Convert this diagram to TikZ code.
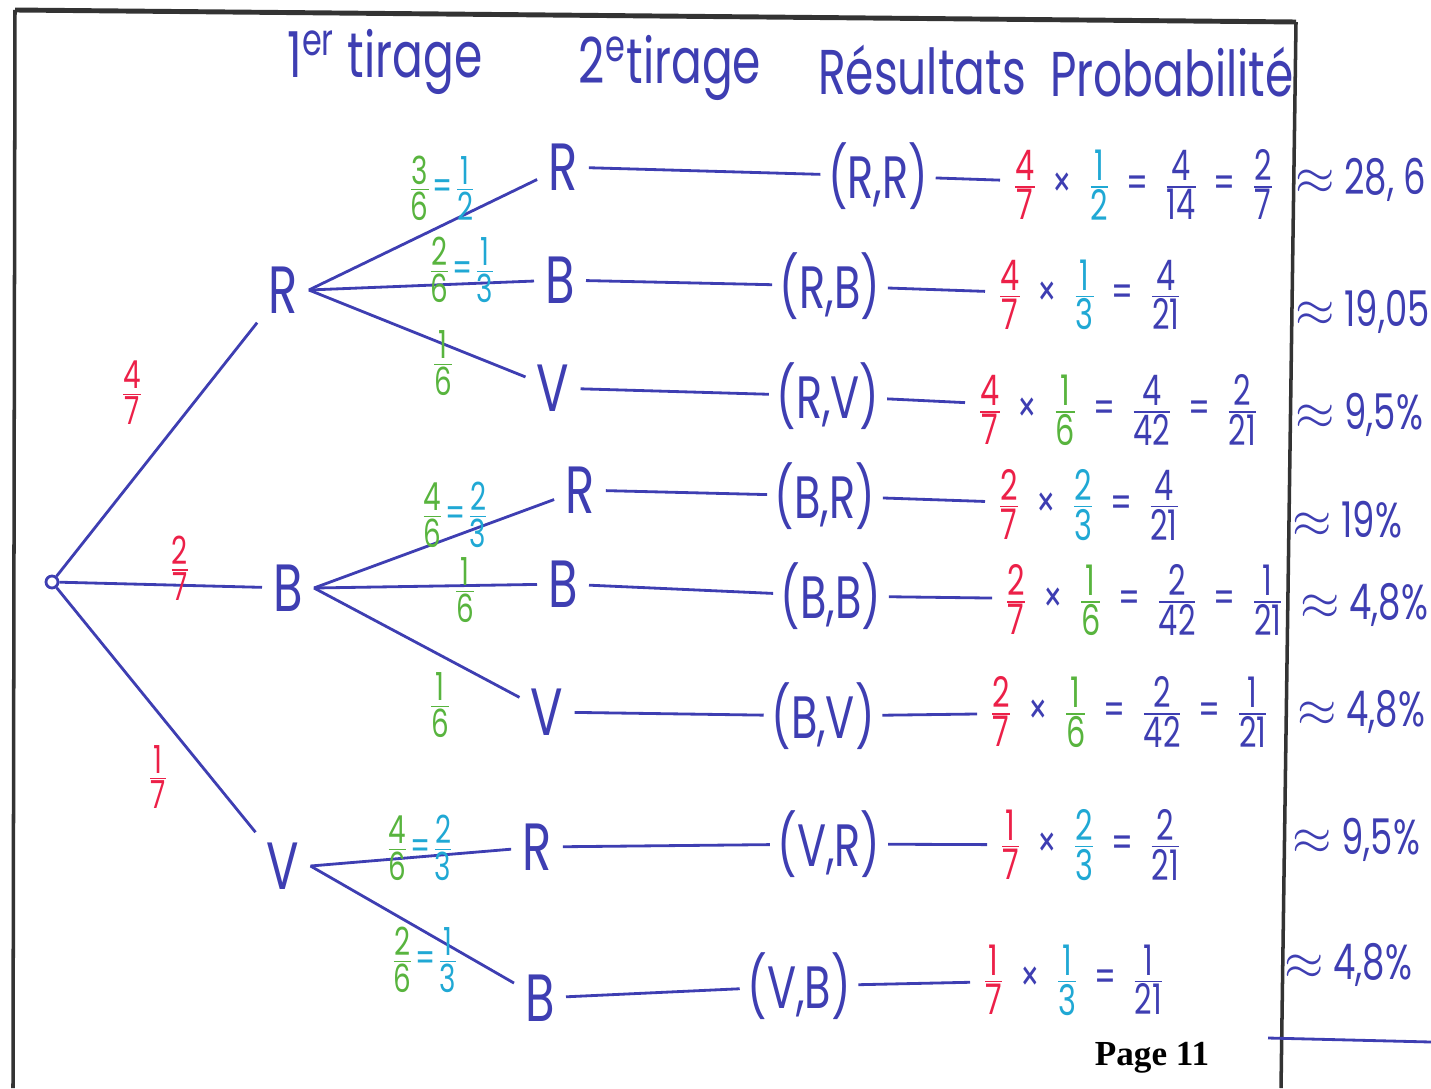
\documentclass[tikz,border=0pt]{standalone}
\usepackage{amsmath}
\usepackage{fontspec}
\setmainfont{Poppins}[FakeStretch=0.72]
\newfontfamily\imprime{Liberation Serif}

\definecolor{encre}{RGB}{62,62,178}
\definecolor{rouge}{RGB}{236,32,72}
\definecolor{vert}{RGB}{88,180,62}
\definecolor{turquoise}{RGB}{32,168,212}

\newcommand{\fr}[2]{\frac{\mbox{#1}}{\mbox{#2}}}
\newcommand{\rfr}[2]{\textcolor{rouge}{\fr{#1}{#2}}}
\newcommand{\vfr}[2]{\textcolor{vert}{\fr{#1}{#2}}}
\newcommand{\tfr}[2]{\textcolor{turquoise}{\fr{#1}{#2}}}
\newcommand{\efr}[2]{\fr{#1}{#2}}
\newcommand{\fois}{\mkern6mu\mbox{×}\mkern6mu}
\newcommand{\eg}{\mkern6mu\mbox{=}\mkern6mu}
\newcommand{\teg}{\textcolor{turquoise}{\mbox{=}}}

\begin{document}
\begin{tikzpicture}[x=0.01cm, y=-0.01cm]
  \tikzset{
    lettre_node/.style={text=encre, font=\fontsize{19}{21}\selectfont, inner sep=3pt},
    resultat_node/.style={text=encre, font=\fontsize{17}{19}\selectfont, inner sep=2pt},
    calc_node/.style={anchor=west, text=encre, font=\fontsize{12}{14}\selectfont, inner sep=3pt},
    proba_node/.style={anchor=west, text=encre, font=\fontsize{14}{16}\selectfont, inner sep=0pt},
    titre_node/.style={text=encre, font=\fontsize{18}{20}\selectfont},
    poids_node/.style={font=\fontsize{11}{13}\selectfont, inner sep=0pt},
    branche/.style={draw=encre, line width=0.8pt},
    cadre/.style={draw=black!80, line width=1pt}
  }

  \useasboundingbox (0,0) rectangle (1431,1088);

  % Cadre de la page
  \draw[cadre, line width=1.4pt] (15,10) -- (1296,22);
  \draw[cadre] (15,10) -- (13,1088);
  \draw[cadre] (1296,22) -- (1281,1088);

  % En-tetes des colonnes
  \node[titre_node] (t1) at (385,62) {1\textsuperscript{er} tirage};
  \node[titre_node] (t2) at (670,68) {2\textsuperscript{e}tirage};
  \node[titre_node] (t3) at (922,70) {Résultats};
  \node[titre_node] (t4) at (1172,72) {Probabilité};

  % Racine et 1er tirage
  \node[circle, draw=encre, line width=0.8pt, minimum size=0.12cm, inner sep=0pt] (racine) at (52,582) {};
  \node[lettre_node] (R) at (283,290) {R};
  \node[lettre_node] (B) at (288,588) {B};
  \node[lettre_node] (V) at (283,866) {V};

  % 2e tirage
  \node[lettre_node] (RR) at (563,167) {R};
  \node[lettre_node] (RB) at (560,280) {B};
  \node[lettre_node] (RV) at (553,388) {V};
  \node[lettre_node] (BR) at (580,490) {R};
  \node[lettre_node] (BB) at (563,584) {B};
  \node[lettre_node] (BV) at (547,712) {V};
  \node[lettre_node] (VR) at (537,847) {R};
  \node[lettre_node] (VB) at (540,998) {B};

  % Resultats
  \node[resultat_node] (rRR) at (878,176) {(R,R)};
  \node[resultat_node] (rRB) at (830,286) {(R,B)};
  \node[resultat_node] (rRV) at (828,396) {(R,V)};
  \node[resultat_node] (rBR) at (825,496) {(B,R)};
  \node[resultat_node] (rBB) at (831,596) {(B,B)};
  \node[resultat_node] (rBV) at (823,716) {(B,V)};
  \node[resultat_node] (rVR) at (829,844) {(V,R)};
  \node[resultat_node] (rVB) at (799,986) {(V,B)};

  % Calculs des probabilites
  \node[calc_node] (cRR) at (1000,185) {$\rfr{4}{7}\fois\tfr{1}{2}\eg\efr{4}{14}\eg\efr{2}{7}$};
  \node[calc_node] (cRB) at (985,295) {$\rfr{4}{7}\fois\tfr{1}{3}\eg\efr{4}{21}$};
  \node[calc_node] (cRV) at (965,410) {$\rfr{4}{7}\fois\vfr{1}{6}\eg\efr{4}{42}\eg\efr{2}{21}$};
  \node[calc_node] (cBR) at (985,505) {$\rfr{2}{7}\fois\tfr{2}{3}\eg\efr{4}{21}$};
  \node[calc_node] (cBB) at (992,600) {$\rfr{2}{7}\fois\vfr{1}{6}\eg\efr{2}{42}\eg\efr{1}{21}$};
  \node[calc_node] (cBV) at (977,712) {$\rfr{2}{7}\fois\vfr{1}{6}\eg\efr{2}{42}\eg\efr{1}{21}$};
  \node[calc_node] (cVR) at (987,845) {$\rfr{1}{7}\fois\tfr{2}{3}\eg\efr{2}{21}$};
  \node[calc_node] (cVB) at (970,980) {$\rfr{1}{7}\fois\tfr{1}{3}\eg\efr{1}{21}$};

  % Pourcentages
  \node[proba_node] (pRR) at (1295,180) {$\approx$ 28, 6};
  \node[proba_node] (pRB) at (1295,312) {$\approx$ 19,05};
  \node[proba_node] (pRV) at (1295,415) {$\approx$ 9,5\%};
  \node[proba_node] (pBR) at (1292,520) {$\approx$ 19\%};
  \node[proba_node] (pBB) at (1300,605) {$\approx$ 4,8\%};
  \node[proba_node] (pBV) at (1297,712) {$\approx$ 4,8\%};
  \node[proba_node] (pVR) at (1292,840) {$\approx$ 9,5\%};
  \node[proba_node] (pVB) at (1284,965) {$\approx$ 4,8\%};

  % Branches du 1er tirage
  \draw[branche] (racine) -- (R);
  \draw[branche] (racine) -- (B);
  \draw[branche] (racine) -- (V);
  \node[poids_node, text=rouge] (lR) at (132,393) {$\fr{4}{7}$};
  \node[poids_node, text=rouge] (lB) at (180,568) {$\fr{2}{7}$};
  \node[poids_node, text=rouge] (lV) at (158,777) {$\fr{1}{7}$};

  % Branches du 2e tirage
  \draw[branche] (R.east) -- (RR);
  \draw[branche] (R.east) -- (RB);
  \draw[branche] (R.east) -- (RV);
  \draw[branche] (B.east) -- (BR);
  \draw[branche] (B.east) -- (BB);
  \draw[branche] (B.east) -- (BV);
  \draw[branche] (V.east) -- (VR);
  \draw[branche] (V.east) -- (VB);
  \node[poids_node] (lRR) at (442,188) {$\vfr{3}{6}\teg\tfr{1}{2}$};
  \node[poids_node] (lRB) at (462,270) {$\vfr{2}{6}\teg\tfr{1}{3}$};
  \node[poids_node] (lRV) at (443,363) {$\vfr{1}{6}$};
  \node[poids_node] (lBR) at (455,515) {$\vfr{4}{6}\teg\tfr{2}{3}$};
  \node[poids_node] (lBB) at (465,590) {$\vfr{1}{6}$};
  \node[poids_node] (lBV) at (440,705) {$\vfr{1}{6}$};
  \node[poids_node] (lVR) at (420,848) {$\vfr{4}{6}\teg\tfr{2}{3}$};
  \node[poids_node] (lVB) at (425,960) {$\vfr{2}{6}\teg\tfr{1}{3}$};

  % Liaisons vers les resultats et les calculs
  \draw[branche] (RR) -- (rRR);
  \draw[branche] (RB) -- (rRB);
  \draw[branche] (RV) -- (rRV);
  \draw[branche] (BR) -- (rBR);
  \draw[branche] (BB) -- (rBB);
  \draw[branche] (BV) -- (rBV);
  \draw[branche] (VR) -- (rVR);
  \draw[branche] (VB) -- (rVB);
  \draw[branche] (rRR) -- (cRR);
  \draw[branche] (rRB) -- (cRB);
  \draw[branche] (rRV) -- (cRV);
  \draw[branche] (rBR) -- (cBR);
  \draw[branche] (rBB) -- (cBB);
  \draw[branche] (rBV) -- (cBV);
  \draw[branche] (rVR) -- (cVR);
  \draw[branche] (rVB) -- (cVB);

  % Bas de page
  \draw[branche] (1268,1038) -- (1431,1042);
  \node[font=\imprime\bfseries\fontsize{10}{12}\selectfont] (page) at (1152,1058) {Page 11};
\end{tikzpicture}
\end{document}
